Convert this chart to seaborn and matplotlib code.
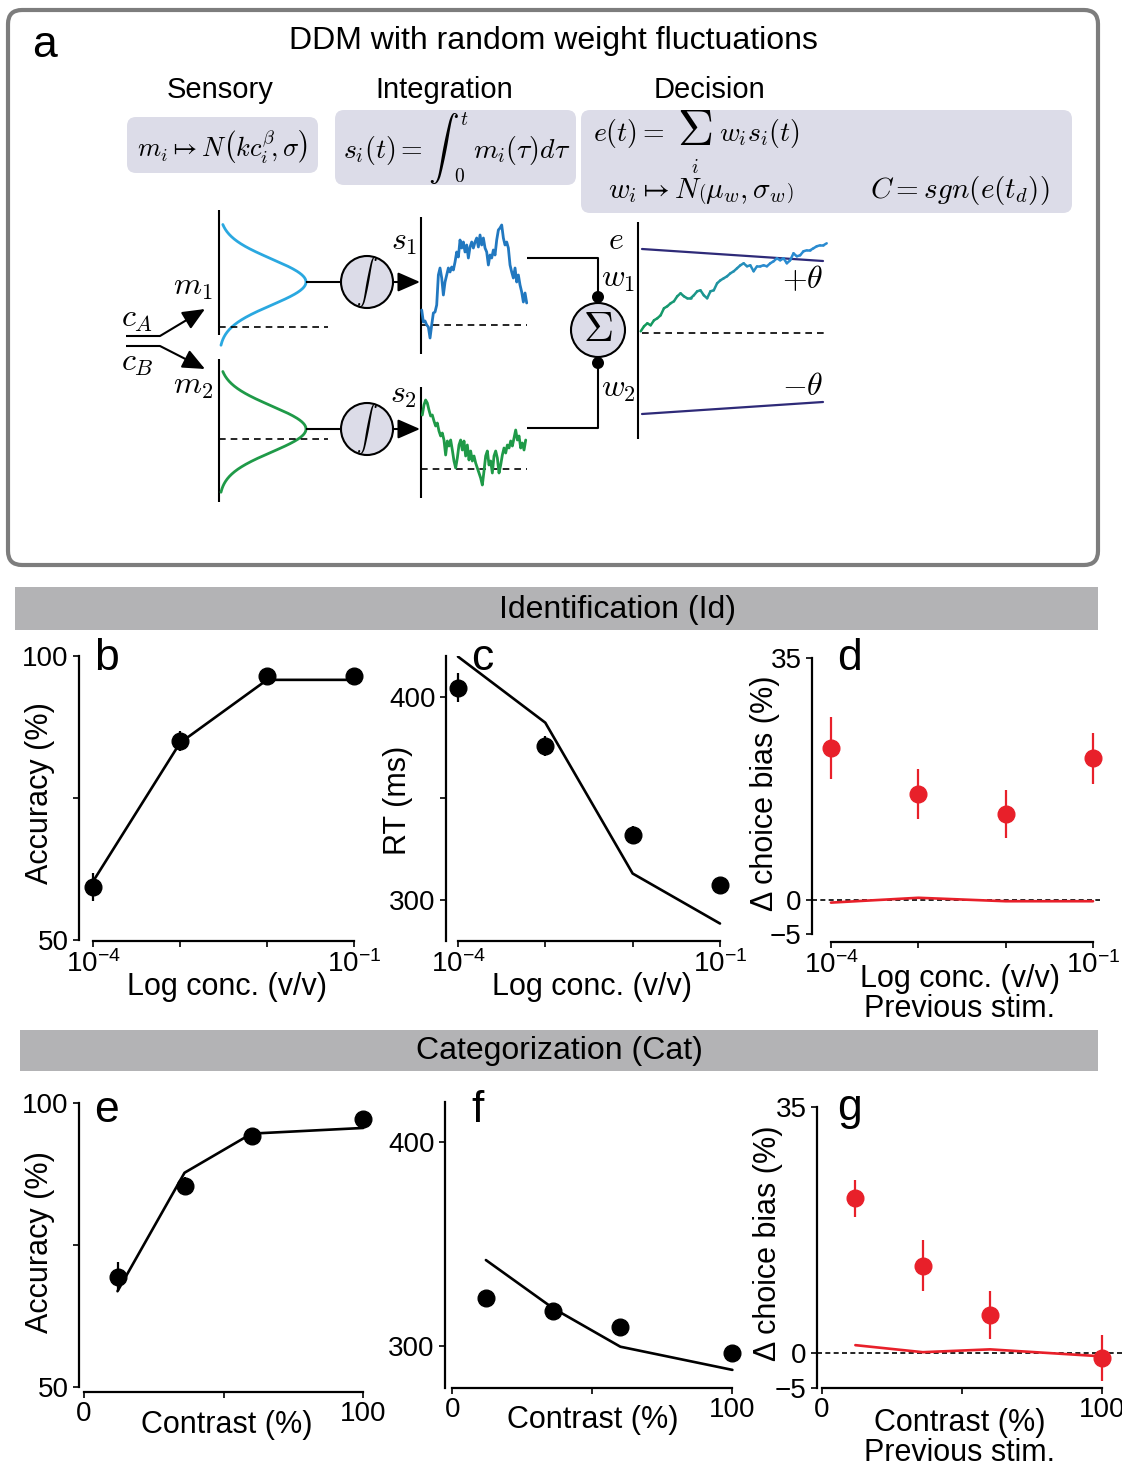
import numpy as np
import matplotlib
matplotlib.use("Agg")
import matplotlib.pyplot as plt
import seaborn as sns
from matplotlib.patches import FancyBboxPatch, Circle, Rectangle
from matplotlib.collections import LineCollection
from matplotlib.colors import LinearSegmentedColormap

# ---------------- behavioural data and model fits ----------------
conc = [1e-4, 1e-3, 1e-2, 1e-1]
id_acc = [59.3, 85.0, 96.4, 96.4]
id_acc_err = [2.5, 1.8, 0.6, 0.6]
id_acc_model = [60.3, 84.7, 95.8, 95.8]
id_rt = [404.5, 375.7, 331.9, 307.2]
id_rt_err = [7.0, 5.0, 4.5, 3.0]
id_rt_model = [419.7, 387.2, 313.0, 288.4]
id_bias = [22.0, 15.3, 12.4, 20.5]
id_bias_err = [4.5, 3.6, 3.5, 3.7]
id_bias_model = [-0.4, 0.3, -0.2, -0.2]

contrast = [12, 36, 60, 100]
cat_acc = [69.4, 85.4, 94.1, 97.2]
cat_acc_err = [2.6, 1.5, 0.6, 0.6]
cat_acc_model = [66.8, 87.7, 94.6, 95.6]
cat_rt = [323.3, 317.2, 309.0, 296.3]
cat_rt_err = [3.0, 2.0, 1.5, 1.5]
cat_rt_model = [342.1, 318.4, 299.5, 288.1]
cat_bias = [22.0, 12.4, 5.4, -0.7]
cat_bias_err = [2.6, 3.6, 3.4, 3.3]
cat_bias_model = [1.1, 0.1, 0.5, -0.5]

# ---------------- example traces for the model sketch ----------------
s1_trace = [15, 3, 4, 0, -2, -13, 0, 12, 13, 20, 50, 57, 47, 30, 43, 50, 57, 53, 58, 55,
            63, 73, 68, 85, 77, 83, 73, 80, 67, 78, 83, 77, 83, 87, 78, 90, 80, 87, 77, 73,
            60, 70, 67, 75, 70, 85, 95, 97, 100, 87, 80, 83, 77, 60, 53, 47, 57, 43, 50, 40,
            33, 23, 32, 22]
s2_trace = [54, 64, 69, 66, 59, 53, 54, 48, 43, 46, 38, 33, 36, 29, 14, 28, 23, 29, 19, 8,
            1, 11, 24, 29, 19, 28, 13, 24, 9, 18, 8, 13, 6, 1, -4, -9, -16, -2, 13, 18,
            4, 8, -4, 13, 18, 11, -4, 4, 14, 21, 16, 24, 21, 28, 23, 31, 39, 29, 33, 21,
            26, 19, 29]
e_trace = [2, 7, 10, 8, 13, 15, 18, 25, 27, 30, 32, 37, 40, 37, 35, 35, 38, 42, 43, 38,
           35, 42, 43, 50, 53, 55, 57, 60, 62, 65, 68, 70, 67, 68, 62, 67, 67, 68, 67, 70,
           72, 75, 73, 75, 70, 73, 80, 77, 78, 82, 83, 83, 85, 87, 88, 88, 90]

RED = "#e8202a"
BLUE_M = "#2aa8e0"
BLUE_S = "#2178c0"
GREEN = "#1f9a48"
NAVY = "#2e2a78"
LAV = "#dcdce8"
BAND = "#b3b3b5"

sns.set_theme(style="ticks")
plt.rcParams["font.family"] = ["Liberation Sans", "DejaVu Sans"]
plt.rcParams.update({
    "mathtext.fontset": "cm",
    "axes.edgecolor": "black", "axes.labelcolor": "black", "text.color": "black",
    "xtick.color": "black", "ytick.color": "black", "axes.linewidth": 1.5,
})

W, H = 1122, 1470
fig = plt.figure(figsize=(W / 100, H / 100), dpi=100)
fig.patch.set_facecolor("white")

# overlay axes in pixel units (y grows downward) for the sketch and headers
ov = fig.add_axes([0, 0, 1, 1])
ov.set_xlim(0, W)
ov.set_ylim(H, 0)
ov.axis("off")

# ---------------- panel a: model sketch ----------------
ov.add_patch(FancyBboxPatch((8, 10), 1090, 555, boxstyle="round,pad=0,rounding_size=14",
                            ec="#7d7d7d", fc="white", lw=3))
ov.text(45, 45, "a", fontsize=32, ha="center", va="center")
ov.text(553, 41, "DDM with random weight fluctuations", fontsize=23, ha="center", va="center")
for xx, lab in [(220, "Sensory"), (444, "Integration"), (710, "Decision")]:
    ov.text(xx, 90, lab, fontsize=21, ha="center", va="center")

for (bx, by, bw, bh) in [(127, 117, 191, 56), (335, 110, 241, 75), (581, 110, 491, 103)]:
    ov.add_patch(FancyBboxPatch((bx, by), bw, bh, boxstyle="round,pad=0,rounding_size=9",
                                ec="none", fc=LAV))

ov.text(222, 157, r"$m_i \mapsto N\left(kc_i^{\beta}\!,\sigma\right)$", fontsize=19,
        ha="center", va="baseline")
ov.text(343, 158, r"$s_i(t) =$", fontsize=20, ha="left", va="baseline")
ov.text(443, 148, r"$\int$", fontsize=22, ha="center", va="center")
ov.text(464, 120, r"$t$", fontsize=14, ha="center", va="center")
ov.text(459, 177, r"$0$", fontsize=14, ha="center", va="center")
ov.text(473, 158, r"$m_i(\tau)d\tau$", fontsize=20, ha="left", va="baseline")
ov.text(593, 141, r"$e(t) =$", fontsize=20, ha="left", va="baseline")
ov.text(695, 132, r"$\Sigma$", fontsize=36, ha="center", va="center")
ov.text(695, 168, r"$i$", fontsize=14, ha="center", va="center")
ov.text(719, 141, r"$w_i s_i(t)$", fontsize=20, ha="left", va="baseline")
ov.text(608, 198, r"$w_i \mapsto N\left(\mu_w,\sigma_w\right)$", fontsize=21, ha="left", va="baseline")
ov.text(870, 198, r"$C = sgn\left(e(t_d)\right)$", fontsize=21, ha="left", va="baseline")

k = dict(color="black", lw=1.5, solid_capstyle="butt")
dash = dict(color="black", lw=1.2, ls=(0, (4, 3)))

# sensory distributions
z = np.linspace(-2.5, 2.75, 200)
bell = np.exp(-0.5 * z ** 2)
ov.plot([219, 219], [210, 335], **k)
ov.plot(219 + 87 * bell, 282 + 23 * z, color=BLUE_M, lw=2)
ov.plot([219, 328], [327, 327], **dash)
ov.plot([219, 219], [359, 502], **k)
ov.plot(219 + 87 * bell, 429 + 23 * z, color=GREEN, lw=2)
ov.plot([219, 328], [439, 439], **dash)

# inputs c_A / c_B
ov.plot([126, 160], [336, 336], **k)
ov.plot([126, 160], [346, 346], **k)
arr = dict(arrowstyle="-|>,head_length=0.8,head_width=0.35", color="black", lw=1.5,
           shrinkA=0, shrinkB=0, mutation_scale=17)
ov.annotate("", xy=(205, 309), xytext=(160, 336), arrowprops=arr)
ov.annotate("", xy=(205, 369), xytext=(160, 346), arrowprops=arr)

lab = dict(fontsize=23, ha="center", va="center")
ov.text(193, 287, r"$m_1$", **lab)
ov.text(193, 386, r"$m_2$", **lab)
ov.text(137, 319, r"$c_A$", **lab)
ov.text(137, 363, r"$c_B$", **lab)

# integrators
for cy in (282, 429):
    ov.plot([306, 341], [cy, cy], **k)
    ov.add_patch(Circle((367, cy), 26, fc=LAV, ec="black", lw=1.5))
    ov.text(367, cy, r"$\int$", fontsize=15, ha="center", va="center")
    ov.annotate("", xy=(420, cy), xytext=(393, cy), arrowprops=arr)

# accumulated evidence s1, s2
ov.plot([421, 421], [217, 354], **k)
ov.plot([421, 527], [325, 325], **dash)
xs1 = np.linspace(421.7, 526.7, len(s1_trace))
ov.plot(xs1, 325 - np.array(s1_trace), color=BLUE_S, lw=2)
ov.text(404, 242, r"$s_1$", **lab)

ov.plot([421, 421], [387, 498], **k)
ov.plot([421, 527], [469, 469], **dash)
xs2 = np.linspace(422.3, 525.7, len(s2_trace))
ov.plot(xs2, 469 - np.array(s2_trace), color=GREEN, lw=2)
ov.text(403, 395, r"$s_2$", **lab)

# weighted sum
ov.plot([527, 598, 598], [258, 258, 297], **k)
ov.plot([598, 598, 527], [363, 428, 428], **k)
ov.add_patch(Circle((598, 330), 27, fc=LAV, ec="black", lw=1.5, zorder=3))
ov.text(598, 330, r"$\Sigma$", fontsize=30, ha="center", va="center", zorder=4)
for cy in (297, 363):
    ov.add_patch(Circle((598, cy), 6, fc="black", ec="none", zorder=4))
ov.text(618, 279, r"$w_1$", **lab)
ov.text(618, 389, r"$w_2$", **lab)

# decision variable and bounds
ov.plot([638, 638], [222, 439], **k)
ov.text(616, 241, r"$e$", **lab)
ov.plot([642, 827], [333, 333], **dash)
ov.plot([642, 823], [249, 261], color=NAVY, lw=1.6)
ov.plot([642, 823], [414, 402], color=NAVY, lw=1.6)
ov.text(803, 280, r"$+\theta$", **lab)
ov.text(803, 387, r"$-\theta$", **lab)
xe = np.linspace(640.7, 826.7, len(e_trace))
ye = 333.3 - np.array(e_trace)
pts = np.column_stack([xe, ye]).reshape(-1, 1, 2)
segs = np.concatenate([pts[:-1], pts[1:]], axis=1)
grad = LinearSegmentedColormap.from_list("ev", ["#129a58", "#1c9690", "#2a8bd0", "#2a8bd0"])
lc = LineCollection(segs, cmap=grad, lw=1.8, capstyle="round")
lc.set_array(np.linspace(0, 1, len(segs)))
ov.add_collection(lc)

# ---------------- section headers ----------------
ov.add_patch(Rectangle((15, 587), 1083, 43, fc=BAND, ec="none"))
ov.text(618, 610, "Identification (Id)", fontsize=23, ha="center", va="center")
ov.add_patch(Rectangle((20, 1030), 1078, 41, fc=BAND, ec="none"))
ov.text(559, 1051, "Categorization (Cat)", fontsize=23, ha="center", va="center")

# panel letters
for (lx, ly, ch) in [(107, 670, "b"), (482, 670, "c"), (850, 670, "d"),
                     (107, 1122, "e"), (478, 1122, "f"), (850, 1120, "g")]:
    ov.text(lx, ly, ch, fontsize=32, ha="center", va="baseline")


# ---------------- data panels ----------------
def px_axes(box):
    x0, y0, x1, y1 = box
    ax = fig.add_axes([x0 / W, 1 - y1 / H, (x1 - x0) / W, (y1 - y0) / H])
    ax.patch.set_alpha(0)
    return ax


def place(ax, box, xlab_xy=None, ylab_xy=None):
    x0, y0, x1, y1 = box
    if xlab_xy is not None:
        ax.xaxis.label.set_va("center")
        ax.xaxis.set_label_coords((xlab_xy[0] - x0) / (x1 - x0), (y1 - xlab_xy[1]) / (y1 - y0))
    if ylab_xy is not None:
        ax.yaxis.label.set_va("center")
        ax.yaxis.set_label_coords((ylab_xy[0] - x0) / (x1 - x0), (y1 - ylab_xy[1]) / (y1 - y0))


def draw_panel(box, x, y, yerr, model, color, xlim, ylim, yticks, yticklabels,
               xlog, xlabel, ylabel, xlab_xy, ylab_xy, ybounds, zero_line=False):
    ax = px_axes(box)
    if xlog:
        ax.set_xscale("log")
    if zero_line:
        ax.axhline(0, color="black", lw=1.2, ls=(0, (3, 2)), zorder=1)
    sns.lineplot(x=x, y=model, ax=ax, color=color, lw=1.9, estimator=None, zorder=2)
    ax.errorbar(x, y, yerr=yerr, fmt="o", color=color, ms=12, elinewidth=1.6,
                capsize=0, clip_on=False, zorder=3)
    ax.set_xlim(*xlim)
    ax.set_ylim(*ylim)
    ax.minorticks_off()
    ax.set_xticks(x if xlog else [0, 50, 100])
    if xlog:
        ax.set_xticklabels([r"$\mathregular{10^{-4}}$", "", "", r"$\mathregular{10^{-1}}$"])
        ax.spines["bottom"].set_bounds(x[0], x[-1])
    else:
        ax.set_xticklabels(["0", "", "100"])
        ax.spines["bottom"].set_bounds(0, 100)
    ax.set_yticks(yticks)
    ax.set_yticklabels(yticklabels)
    if ybounds is not None:
        ax.spines["left"].set_bounds(*ybounds)
    sns.despine(ax=ax)
    ax.spines["left"].set_linewidth(1.6)
    ax.spines["bottom"].set_linewidth(1.6)
    ax.tick_params(axis="both", direction="out", length=4.5, width=1.2, labelsize=20)
    ax.tick_params(axis="y", pad=3)
    ax.tick_params(axis="x", pad=2)
    ax.set_xlabel(xlabel, fontsize=22, linespacing=1.0)
    ax.set_ylabel(ylabel, fontsize=22)
    place(ax, box, xlab_xy, ylab_xy)
    return ax


# b: identification accuracy
box_b = (79, 656, 370, 941)
draw_panel(box_b, conc, id_acc, id_acc_err, id_acc_model, "black",
           (10 ** -4.161, 10 ** -0.816), (49.82, 100), [50, 75, 100], ["50", "", "100"],
           True, "Log conc. (v/v)", "Accuracy (%)", (227, 987), (40, 793), (50, 100))

# c: identification RT
box_c = (446, 656, 735, 941)
draw_panel(box_c, conc, id_rt, id_rt_err, id_rt_model, "black",
           (10 ** -4.137, 10 ** -0.828), (279.8, 420), [300, 350, 400], ["300", "", "400"],
           True, "Log conc. (v/v)", "RT (ms)", (592, 987), (398, 800), None)

# d: identification choice bias
box_d = (812, 658, 1100, 942)
draw_panel(box_d, conc, id_bias, id_bias_err, id_bias_model, RED,
           (10 ** -4.217, 10 ** -0.92), (-6.1, 35), [-5, 0, 35], ["\u22125", "0", "35"],
           True, "Log conc. (v/v)\nPrevious stim.", "\u0394 choice bias (%)",
           (960, 994), (765, 793), (-5, 35), zero_line=True)

# e: categorization accuracy
box_e = (79, 1103, 375, 1392)
draw_panel(box_e, contrast, cat_acc, cat_acc_err, cat_acc_model, "black",
           (-1.79, 104.2), (49.03, 100), [50, 75, 100], ["50", "", "100"],
           False, "Contrast (%)", "Accuracy (%)", (227, 1425), (40, 1242), (50, 100))

# f: categorization RT
box_f = (445, 1102, 745, 1388)
draw_panel(box_f, contrast, cat_rt, cat_rt_err, cat_rt_model, "black",
           (-2.6, 104.5), (279.2, 419.8), [300, 400], ["300", "400"],
           False, "Contrast (%)", "", (593, 1420), None, None)

# g: categorization choice bias
box_g = (817, 1107, 1122, 1388)
draw_panel(box_g, contrast, cat_bias, cat_bias_err, cat_bias_model, RED,
           (-1.67, 107), (-5, 35), [-5, 0, 35], ["\u22125", "0", "35"],
           False, "Contrast (%)\nPrevious stim.", "\u0394 choice bias (%)",
           (960, 1438), (768, 1243), (-5, 35), zero_line=True)

fig.savefig("out.png", dpi=100, facecolor="white")
